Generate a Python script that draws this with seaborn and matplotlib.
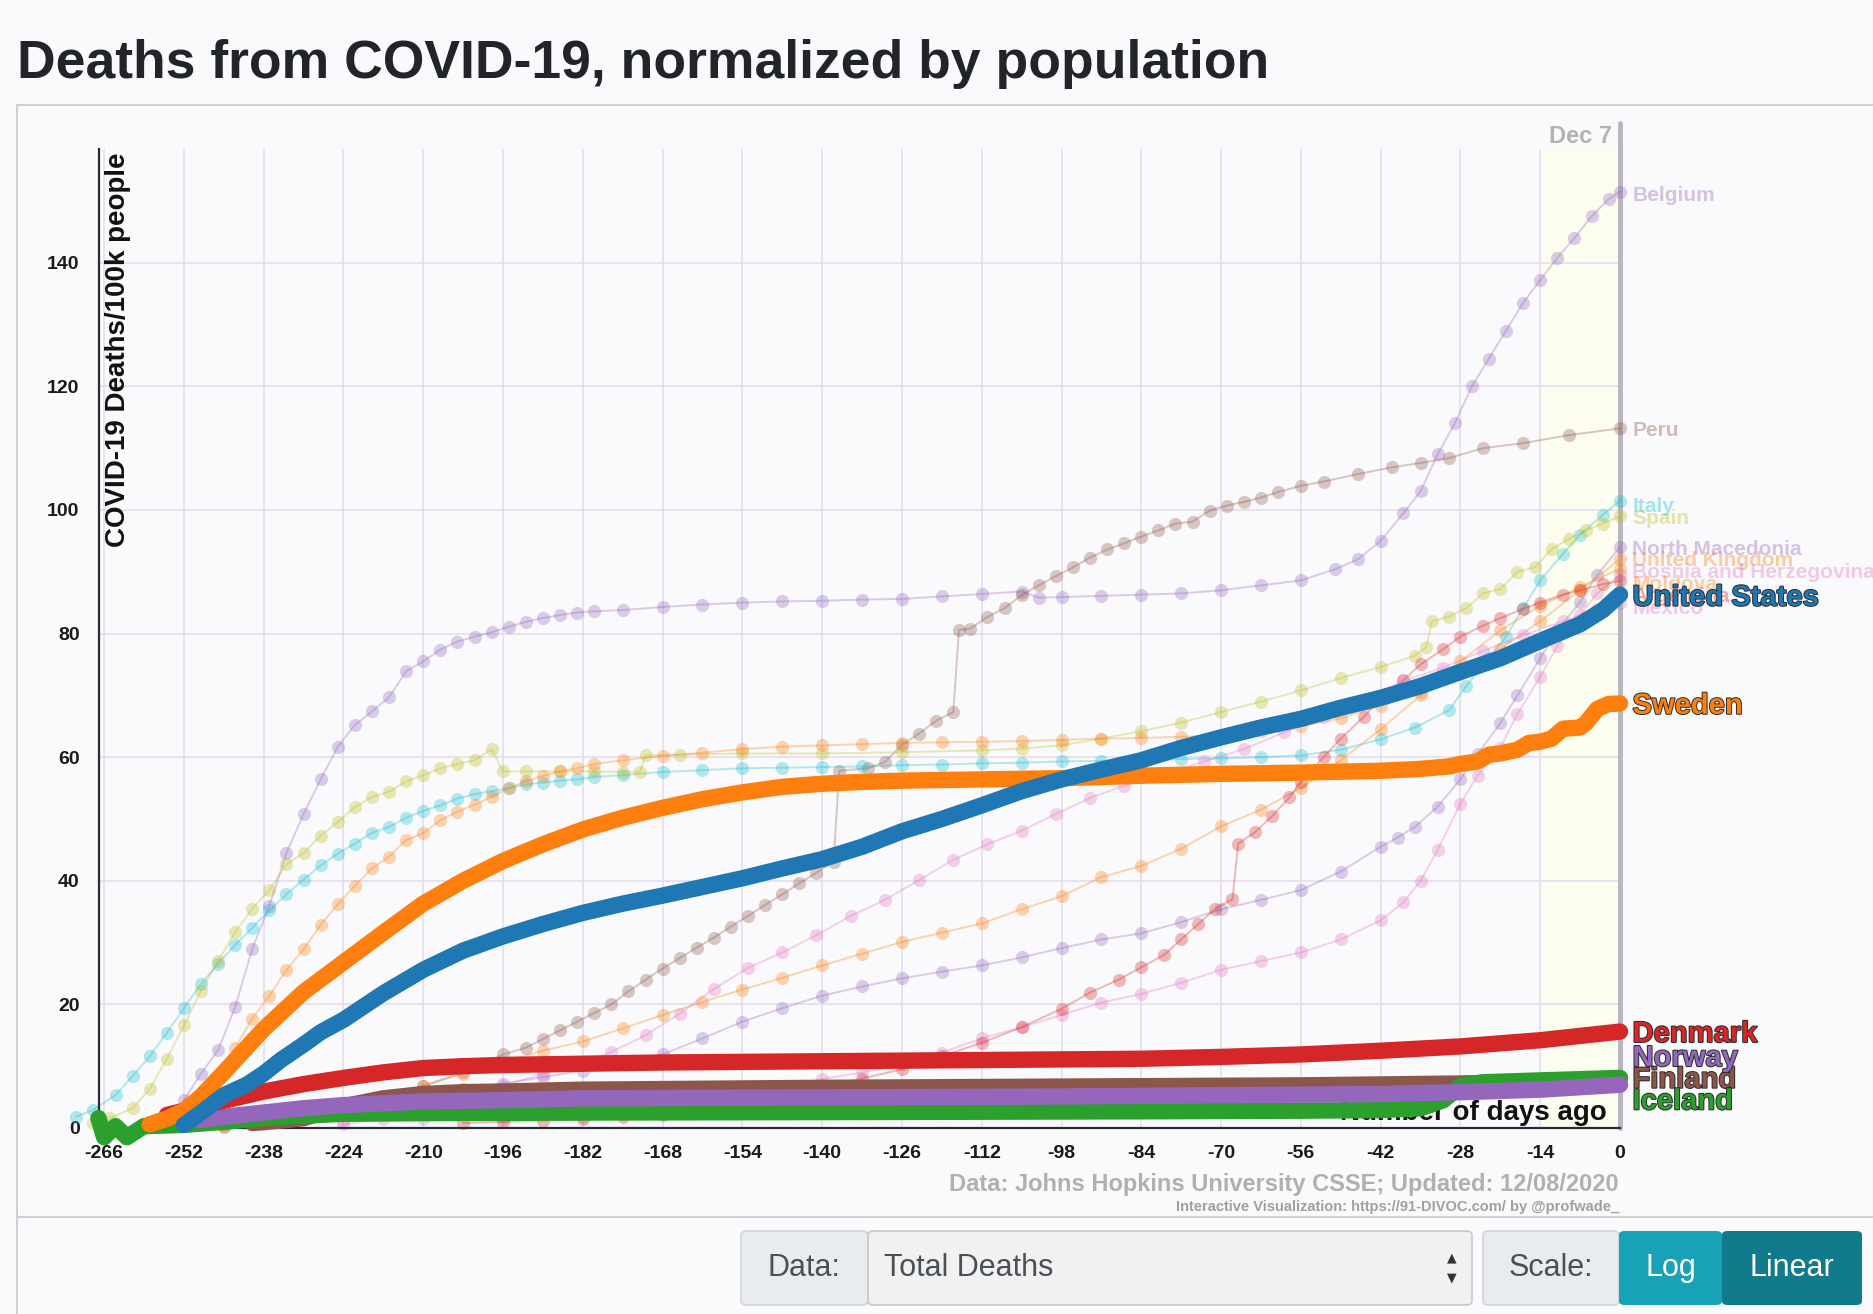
import matplotlib
matplotlib.use("Agg")
import matplotlib.pyplot as plt
import matplotlib.patheffects as pe
from matplotlib.patches import FancyBboxPatch
from matplotlib.lines import Line2D
import seaborn as sns

# ------------------------------------------------------------------ data
# days relative to Dec 7, values = deaths per 100k people

# highlighted countries
us_days = [-252, -249, -245, -241, -238, -235, -231, -228, -224, -217, -210, -203, -196, -189, -182, -175,
           -168, -161, -154, -147, -140, -133, -126, -119, -112, -105, -98, -91, -84, -77, -70, -63, -56,
           -49, -42, -35, -28, -21, -14, -7, -3, 0]
us_vals = [0.5, 2.5, 5.3, 7.0, 8.8, 11.0, 13.5, 15.5, 17.5, 21.8, 25.6, 28.7, 31.0, 33.0, 34.8, 36.3,
           37.6, 39.0, 40.4, 42.0, 43.5, 45.5, 48.0, 50.0, 52.2, 54.5, 56.4, 58.0, 59.5, 61.5, 63.2, 64.8, 66.2,
           68.0, 69.6, 71.5, 73.8, 76.0, 78.8, 81.5, 83.8, 86.3]

sweden_days = [-258, -255, -252, -249, -245, -241, -238, -231, -224, -217, -210, -203, -196, -189, -182, -175,
               -168, -161, -154, -147, -140, -133, -126, -112, -98, -84, -70, -56, -42, -35, -30, -28, -25,
               -23, -21, -18, -16, -14, -12, -10, -7, -6, -4, -2, 0]
sweden_vals = [0.6, 1.5, 2.8, 5.1, 9.0, 13.0, 16.0, 22.0, 26.8, 31.6, 36.3, 40.0, 43.2, 45.9, 48.3, 50.2,
               51.8, 53.2, 54.3, 55.2, 55.7, 56.0, 56.2, 56.4, 56.6, 57.0, 57.3, 57.5, 57.8, 58.1, 58.5, 58.9, 59.3,
               60.4, 60.6, 61.2, 62.3, 62.5, 63.0, 64.6, 64.8, 65.5, 67.8, 68.6, 68.7]

denmark_days = [-255, -252, -249, -245, -238, -231, -224, -217, -210, -203, -196, -182, -168, -154, -140, -126,
                -112, -98, -84, -70, -56, -42, -28, -21, -14, -7, 0]
denmark_vals = [2.1, 2.8, 3.5, 4.4, 5.9, 7.1, 8.1, 9.0, 9.7, 10.0, 10.2, 10.4, 10.6, 10.7, 10.8, 10.9,
                11.0, 11.1, 11.2, 11.5, 11.9, 12.5, 13.2, 13.7, 14.2, 14.9, 15.6]

norway_days = [-249, -245, -238, -231, -224, -217, -210, -196, -182, -154, -126, -98, -70, -42, -28, -14, -7, 0]
norway_vals = [1.3, 1.8, 2.5, 3.2, 3.7, 4.0, 4.3, 4.5, 4.8, 4.9, 5.0, 5.1, 5.3, 5.5, 5.8, 6.2, 6.6, 7.0]

finland_days = [-240, -235, -231, -224, -217, -210, -203, -196, -182, -140, -98, -56, -28, -14, 0]
finland_vals = [0.8, 1.2, 1.6, 3.5, 4.8, 5.5, 5.8, 5.9, 6.2, 6.5, 6.7, 6.9, 7.2, 7.5, 8.0]

iceland_days = [-267, -266, -264, -262, -259, -252, -245, -238, -231, -224, -210, -182, -126, -84, -56, -42,
                -35, -31, -28, -24, -14, -7, 0]
iceland_vals = [1.6, -1.5, 0.3, -1.5, 0.3, 0.5, 1.0, 1.6, 2.0, 2.3, 2.4, 2.5, 2.6, 2.7, 2.8, 2.9,
                3.2, 4.5, 6.8, 7.4, 7.7, 7.9, 8.1]

# faded countries
belgium_days = [-255, -252, -249, -246, -243, -240, -237, -234, -231, -228, -225, -222, -219, -216, -213, -210,
                -207, -204, -201, -198, -195, -192, -189, -186, -183, -180, -175, -168, -161, -154, -147, -140,
                -133, -126, -119, -112, -105, -102, -98, -91, -84, -77, -70, -63, -56, -50, -46, -42, -38, -35,
                -32, -29, -26, -23, -20, -17, -14, -11, -8, -5, -2, 0]
belgium_vals = [0.5, 4.5, 8.8, 12.6, 19.6, 29.0, 36.0, 44.5, 50.8, 56.4, 61.7, 65.2, 67.4, 69.7, 73.9, 75.5,
                77.4, 78.7, 79.5, 80.2, 81.1, 81.9, 82.5, 83.0, 83.4, 83.6, 83.8, 84.3, 84.7, 85.0, 85.2, 85.3,
                85.5, 85.6, 86.0, 86.4, 86.8, 85.8, 85.9, 86.1, 86.3, 86.5, 87.0, 87.8, 88.6, 90.4, 92.0, 95.0,
                99.5, 103.0, 109.0, 114.0, 120.0, 124.5, 129.0, 133.5, 137.2, 140.8, 144.0, 147.5, 150.3, 151.5]

peru_days = [-245, -238, -231, -224, -217, -210, -203, -196, -192, -189, -186, -183, -180, -177, -174, -171,
             -168, -165, -162, -159, -156, -153, -150, -147, -144, -141, -138, -137, -132, -129, -126, -123,
             -120, -117, -116, -114, -111, -108, -105, -102, -99, -96, -93, -90, -87, -84, -81, -78, -75, -72,
             -69, -66, -63, -60, -56, -52, -46, -40, -35, -30, -24, -17, -9, 0]
peru_vals = [0.2, 0.8, 1.8, 3.2, 5.0, 6.8, 9.0, 11.9, 13.0, 14.4, 15.8, 17.2, 18.6, 20.0, 22.1, 24.0,
             25.8, 27.5, 29.2, 30.8, 32.6, 34.3, 36.1, 37.8, 39.6, 41.3, 43.1, 57.8, 58.2, 59.2, 62.0, 63.8,
             65.9, 67.3, 80.6, 80.8, 82.7, 84.1, 86.2, 87.8, 89.3, 90.7, 92.3, 93.6, 94.6, 95.7, 96.7, 97.8, 98.1,
             99.9, 100.7, 101.3, 102.0, 102.9, 103.9, 104.6, 105.8, 106.9, 107.6, 108.4, 110.0, 110.8, 112.1, 113.2]

italy_days = [-271, -268, -264, -261, -258, -255, -252, -249, -246, -243, -240, -237, -234, -231, -228, -225,
              -222, -219, -216, -213, -210, -207, -204, -201, -198, -195, -192, -189, -186, -183, -180, -175,
              -168, -161, -154, -147, -140, -133, -126, -119, -112, -105, -98, -91, -84, -77, -70, -63, -56,
              -49, -42, -36, -30, -27, -23, -20, -17, -14, -10, -7, -3, 0]
italy_vals = [1.8, 2.9, 5.3, 8.4, 11.6, 15.4, 19.4, 23.3, 26.6, 29.6, 32.4, 35.2, 37.8, 40.2, 42.5, 44.4,
              46.0, 47.8, 48.7, 50.2, 51.3, 52.2, 53.3, 54.0, 54.5, 55.0, 55.6, 55.9, 56.2, 56.4, 56.8, 57.1,
              57.6, 57.9, 58.2, 58.3, 58.4, 58.5, 58.7, 58.8, 59.0, 59.1, 59.3, 59.4, 59.5, 59.7, 59.8, 60.0, 60.3,
              61.2, 62.9, 64.8, 67.6, 71.5, 76.0, 79.5, 84.1, 88.6, 92.9, 96.0, 99.2, 101.5]

spain_days = [-268, -265, -261, -258, -255, -252, -249, -246, -243, -240, -237, -234, -231, -228, -225, -222,
              -219, -216, -213, -210, -207, -204, -201, -198, -196, -192, -186, -180, -175, -172, -171, -165,
              -154, -140, -126, -112, -105, -98, -91, -84, -77, -70, -63, -56, -49, -42, -36, -34, -33, -30,
              -27, -24, -21, -18, -15, -12, -9, -6, -3, 0]
spain_vals = [0.8, 1.6, 3.2, 6.3, 11.2, 16.6, 22.2, 27.0, 31.7, 35.5, 38.5, 42.7, 44.5, 47.3, 49.5, 51.9,
              53.6, 54.4, 56.1, 57.1, 58.2, 58.9, 59.5, 61.3, 57.7, 57.7, 57.7, 57.7, 57.6, 57.6, 60.3, 60.4,
              60.6, 60.6, 60.8, 61.1, 61.4, 61.9, 63.0, 64.2, 65.6, 67.3, 69.0, 70.8, 72.8, 74.6, 76.4, 77.8, 82.0,
              82.7, 84.1, 86.5, 87.2, 90.0, 90.7, 93.6, 95.3, 96.7, 97.8, 99.0]

uk_days = [-252, -249, -246, -243, -240, -237, -234, -231, -228, -225, -222, -219, -216, -213, -210, -207,
           -204, -201, -198, -195, -192, -189, -186, -183, -180, -175, -168, -161, -154, -147, -140, -133,
           -126, -119, -112, -105, -98, -91, -84, -77, -70, -63, -56, -49, -42, -35, -28, -21, -14, -7, 0]
uk_vals = [0.8, 4.5, 8.4, 13.0, 17.7, 21.4, 25.6, 28.9, 32.9, 36.2, 39.2, 42.0, 43.9, 46.6, 47.7, 49.8,
           51.2, 52.3, 53.6, 55.0, 56.1, 57.0, 57.7, 58.2, 58.9, 59.5, 60.2, 60.7, 61.3, 61.7, 61.9, 62.1,
           62.3, 62.4, 62.5, 62.6, 62.8, 63.0, 63.1, 63.3, 63.6, 64.2, 65.0, 66.3, 68.3, 70.6, 73.5, 77.5, 82.0,
           87.0, 92.0]

moldova_days = [-245, -238, -231, -224, -217, -210, -203, -196, -189, -182, -175, -168, -161, -154, -147, -140,
                -133, -126, -119, -112, -105, -98, -91, -84, -77, -70, -63, -56, -49, -42, -35, -28, -21, -14,
                -7, 0]
moldova_vals = [0.3, 0.9, 1.6, 3.0, 4.8, 6.8, 8.8, 10.7, 12.5, 14.0, 16.1, 18.3, 20.4, 22.4, 24.3, 26.3,
                28.2, 30.1, 31.6, 33.1, 35.4, 37.5, 40.6, 42.4, 45.2, 48.8, 51.5, 55.0, 59.5, 64.5, 70.0, 75.5,
                80.5, 84.5, 87.5, 90.5]

argentina_days = [-203, -196, -189, -182, -175, -168, -161, -154, -147, -140, -133, -126, -119, -112, -105, -98,
                  -93, -88, -84, -80, -77, -74, -71, -68, -67, -64, -61, -58, -56, -52, -49, -45, -42, -38, -35,
                  -31, -28, -24, -21, -17, -14, -10, -7, -3, 0]
argentina_vals = [0.8, 1.0, 1.2, 1.4, 1.7, 2.1, 2.7, 3.6, 4.8, 6.3, 8.0, 9.5, 11.6, 13.8, 16.3, 19.3,
                  21.9, 24.0, 26.0, 28.0, 30.5, 33.0, 35.5, 37.0, 46.0, 47.9, 50.5, 53.5, 56.0, 60.0, 63.0, 66.5,
                  69.5, 72.5, 75.0, 77.5, 79.5, 81.3, 82.5, 84.0, 85.0, 86.3, 87.0, 88.0, 88.5]

mexico_days = [-224, -217, -210, -203, -196, -189, -182, -177, -171, -165, -159, -153, -147, -141, -135, -129,
               -123, -117, -111, -105, -99, -93, -87, -80, -73, -66, -59, -52, -45, -38, -31, -24, -17, -10, -4, 0]
mexico_vals = [0.6, 1.5, 3.0, 4.8, 6.8, 8.8, 10.5, 12.3, 15.0, 18.5, 22.5, 25.9, 28.4, 31.2, 34.3, 36.9,
               40.1, 43.4, 45.9, 48.1, 50.8, 53.4, 55.4, 57.2, 59.3, 61.3, 64.0, 66.5, 69.2, 72.3, 74.5, 77.2,
               79.7, 82.0, 84.0, 85.0]

bosnia_days = [-238, -224, -210, -196, -182, -175, -168, -161, -154, -147, -140, -133, -126, -119, -112, -105,
               -98, -91, -84, -77, -70, -63, -56, -49, -42, -38, -35, -32, -28, -25, -21, -18, -14, -11, -7, -4, 0]
bosnia_vals = [0.6, 1.2, 1.5, 1.6, 1.8, 2.2, 2.8, 3.9, 5.3, 6.6, 7.9, 9.0, 10.3, 12.2, 14.5, 16.3,
               18.3, 20.3, 21.7, 23.5, 25.6, 27.0, 28.4, 30.5, 33.6, 36.5, 40.0, 45.0, 52.5, 57.0, 61.5, 67.0,
               73.0, 78.0, 83.0, 86.5, 89.5]

macedonia_days = [-245, -238, -231, -224, -217, -210, -203, -196, -189, -182, -175, -168, -161, -154, -147, -140,
                  -133, -126, -119, -112, -105, -98, -91, -84, -77, -70, -63, -56, -49, -42, -39, -36, -32, -28,
                  -25, -21, -18, -14, -11, -7, -4, 0]
macedonia_vals = [0.5, 1.8, 2.8, 3.7, 4.7, 5.5, 6.3, 7.2, 8.2, 9.3, 10.6, 11.9, 14.5, 17.2, 19.4, 21.4,
                  22.9, 24.2, 25.3, 26.3, 27.6, 29.1, 30.5, 31.5, 33.3, 35.4, 36.9, 38.5, 41.5, 45.5, 47.0, 48.7,
                  52.0, 56.4, 60.5, 65.5, 70.0, 76.0, 80.5, 85.1, 89.5, 94.0]

# end-label text positions (y, in data units)
highlight_names = ["Finland", "Iceland", "Norway", "Denmark", "Sweden", "United States"]
highlight_label_y = [8.3, 4.8, 11.8, 15.7, 68.8, 86.3]
faded_names = ["Belgium", "Peru", "Italy", "Spain", "North Macedonia", "United Kingdom",
               "Bosnia and Herzegovina", "Moldova", "Argentina", "Mexico"]
faded_label_y = [151.2, 113.2, 100.9, 98.9, 94.0, 92.1, 90.2, 88.3, 86.3, 84.3]

x_ticks = list(range(-266, 1, 14))
y_ticks = list(range(0, 141, 20))

# ------------------------------------------------------------------ style
W, H = 1874, 1314
BG = "#fafafc"
DARK = "#2b2838"

sns.set_style("white")
plt.rcParams["font.family"] = ["Liberation Sans", "DejaVu Sans"]
plt.rcParams["axes.unicode_minus"] = False

C = {"blue": "#1f77b4", "orange": "#ff7f0e", "green": "#2ca02c", "red": "#d62728",
     "purple": "#9467bd", "brown": "#8c564b", "pink": "#e377c2", "olive": "#bcbd22", "cyan": "#17becf"}

highlight = [
    (finland_days, finland_vals, C["brown"]),
    (iceland_days, iceland_vals, C["green"]),
    (norway_days, norway_vals, C["purple"]),
    (denmark_days, denmark_vals, C["red"]),
    (sweden_days, sweden_vals, C["orange"]),
    (us_days, us_vals, C["blue"]),
]
faded = [
    (belgium_days, belgium_vals, C["purple"]),
    (peru_days, peru_vals, C["brown"]),
    (italy_days, italy_vals, C["cyan"]),
    (spain_days, spain_vals, C["olive"]),
    (macedonia_days, macedonia_vals, C["purple"]),
    (uk_days, uk_vals, C["orange"]),
    (bosnia_days, bosnia_vals, C["pink"]),
    (moldova_days, moldova_vals, C["orange"]),
    (argentina_days, argentina_vals, C["red"]),
    (mexico_days, mexico_vals, C["pink"]),
]


def fx(x):
    return x / W


def fy(y):
    return 1 - y / H


fig = plt.figure(figsize=(W / 100, H / 100), dpi=100, facecolor=BG)
AX_L, AX_R, AX_T, AX_B = 99, 1620, 149, 1128
ax = fig.add_axes([fx(AX_L), fy(AX_B), (AX_R - AX_L) / W, (AX_B - AX_T) / H])
ax.set_facecolor(BG)
XMIN, XMAX, YMIN, YMAX = -266.9, 0, 0, 158.4
ax.set_xlim(XMIN, XMAX)
ax.set_ylim(YMIN, YMAX)

ax.set_xticks(x_ticks)
ax.set_yticks(y_ticks)
ax.set_yticks([YMAX], minor=True)
ax.set_yticklabels([], minor=True)
ax.grid(True, which="major", color="#e4ddee", lw=1.2)
ax.set_axisbelow(True)
for s in ["top", "right"]:
    ax.spines[s].set_visible(False)
for s in ["left", "bottom"]:
    ax.spines[s].set_color(DARK)
    ax.spines[s].set_linewidth(1.6)
ax.tick_params(axis="both", which="both", direction="out", length=9, width=1.5, color=DARK,
               labelsize=14, labelcolor="#1a1a1a")
ax.tick_params(axis="x", pad=3)
ax.tick_params(axis="y", pad=5)
for lab in ax.get_xticklabels() + ax.get_yticklabels():
    lab.set_fontweight("bold")
ax.set_xlabel("")
ax.set_ylabel("")

# last-14-days shading and "today" bar
ax.axvspan(-14, 0, color="#fcfcef", zorder=0.2, lw=0)
ax.axvline(0, ymin=0, ymax=1 + (AX_T - 123) / (AX_B - AX_T), color="#b9b5c0", lw=3.5,
           clip_on=False, zorder=1.5)
ax.text(-1.4, 1 + (AX_T - 143) / (AX_B - AX_T), "Dec 7", transform=ax.get_xaxis_transform(),
        ha="right", va="baseline", fontsize=17, fontweight="bold", color="#b3b3b3")

# axis texts inside plot
ax.text(0.0125, 0.996, "COVID-19 Deaths/100k people", transform=ax.transAxes, rotation=90,
        ha="center", va="top", fontsize=20, fontweight="bold", color="#111111", zorder=1.8)
ax.text(0.9915, 0.008, "Number of days ago", transform=ax.transAxes, ha="right", va="baseline",
        fontsize=20, fontweight="bold", color="#111111", zorder=1.8)

# faded lines
for days, vals, col in faded:
    sns.lineplot(x=days, y=vals, ax=ax, color=col, lw=1.4, alpha=0.32, marker="o", markersize=9.5,
                 markeredgewidth=0, zorder=2, clip_on=False, legend=False, sort=False, estimator=None)

# highlighted lines
for z, (days, vals, col) in enumerate(highlight):
    sns.lineplot(x=days, y=vals, ax=ax, color=col, lw=11.8, solid_capstyle="round",
                 solid_joinstyle="round", zorder=3 + z, clip_on=False, legend=False, sort=False,
                 estimator=None)

# labels
for (days, vals, col), name, ly in zip(faded, faded_names, faded_label_y):
    ax.annotate(name, xy=(0, ly), xytext=(9, 0), textcoords="offset points", ha="left",
                va="center_baseline", fontsize=15, fontweight="bold", color=col, alpha=0.38,
                annotation_clip=False, zorder=9)
for (days, vals, col), name, ly in zip(highlight, highlight_names, highlight_label_y):
    ax.annotate(name, xy=(0, ly), xytext=(9, 0), textcoords="offset points", ha="left",
                va="center_baseline", fontsize=21, fontweight="bold", color=col,
                annotation_clip=False, zorder=10,
                path_effects=[pe.withStroke(linewidth=1.4, foreground="#2a2a2a")])

# ------------------------------------------------------------------ page furniture
fig.text(fx(17), fy(78), "Deaths from COVID-19, normalized by population", ha="left", va="baseline",
         fontsize=38.5, fontweight="bold", color="#212529")

FRAME = "#cfcfd4"
fig.add_artist(Line2D([fx(17), fx(17)], [fy(105), fy(H)], color=FRAME, lw=1.5))
fig.add_artist(Line2D([fx(17), 1], [fy(105), fy(105)], color=FRAME, lw=1.5))
fig.add_artist(Line2D([fx(17), 1], [fy(1217), fy(1217)], color=FRAME, lw=1.5))

fig.text(fx(1619), fy(1191), "Data: Johns Hopkins University CSSE; Updated: 12/08/2020", ha="right",
         va="baseline", fontsize=17, fontweight="bold", color="#b0b0b0")
fig.text(fx(1619), fy(1211), "Interactive Visualization: https://91-DIVOC.com/ by @profwade_", ha="right",
         va="baseline", fontsize=10.5, fontweight="bold", color="#a0a0a0")


def box(x0, y0, x1, y1, fc, ec="none"):
    p = FancyBboxPatch((fx(x0), fy(y1)), fx(x1) - fx(x0), fy(y0) - fy(y1),
                       boxstyle="round,pad=0,rounding_size=0.003", transform=fig.transFigure,
                       facecolor=fc, edgecolor=ec, lw=1.2)
    fig.add_artist(p)


BY0, BY1, BYC = 1231, 1305, 1268
box(741, BY0, 868, BY1, "#e9ecef", "#ced4da")
box(868, BY0, 1472, BY1, "#f1f1f1", "#c8c8c8")
box(1483, BY0, 1619, BY1, "#e9ecef", "#ced4da")
box(1619, BY0, 1722, BY1, "#17a2b8")
box(1722, BY0, 1862, BY1, "#117a8b")
fig.text(fx(804), fy(BYC), "Data:", ha="center", va="center", fontsize=22, color="#495057")
fig.text(fx(884), fy(BYC), "Total Deaths", ha="left", va="center", fontsize=22, color="#495057")
fig.text(fx(1452), fy(BYC - 10), "▲", ha="center", va="center", fontsize=9, color="#333333",
         family="DejaVu Sans")
fig.text(fx(1452), fy(BYC + 10), "▼", ha="center", va="center", fontsize=9, color="#333333",
         family="DejaVu Sans")
fig.text(fx(1551), fy(BYC), "Scale:", ha="center", va="center", fontsize=22, color="#495057")
fig.text(fx(1671), fy(BYC), "Log", ha="center", va="center", fontsize=22, color="white")
fig.text(fx(1792), fy(BYC), "Linear", ha="center", va="center", fontsize=22, color="white")

fig.savefig("out.png", dpi=100, facecolor=BG)
